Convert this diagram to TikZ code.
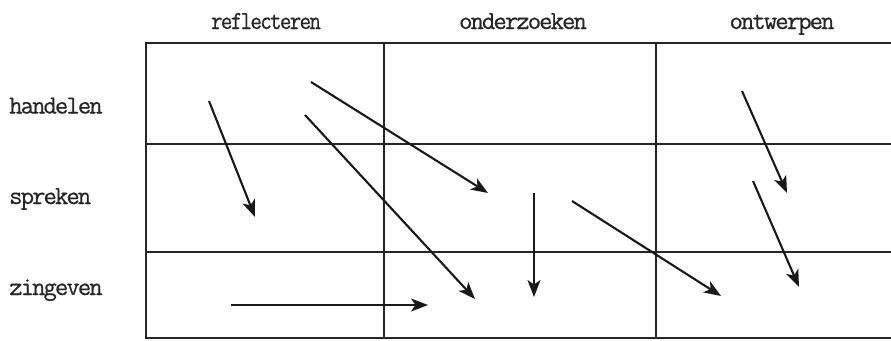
\documentclass[tikz,border=0pt]{standalone}
\usepackage{fontspec}
\newfontfamily\lblfont{Latin Modern Mono}[LetterSpace=-7.5, FakeBold=0.5]
\usetikzlibrary{arrows.meta}
\begin{document}
\begin{tikzpicture}[x=1pt,y=-1pt,
  gridline/.style={line width=2.6pt, draw=black!85},
  flow/.style={line width=2.1pt, draw=black!90, -{Stealth[length=17pt,width=13pt,inset=4.5pt]}},
  lbl/.style={font=\fontsize{26}{26}\selectfont\lblfont, inner sep=0pt, text=black!85}]
\useasboundingbox (0,0) rectangle (891,340);
% grid
\coordinate (tl) at (146,43);
\coordinate (tr) at (893,43);
\coordinate (bl) at (146,338);
\coordinate (br) at (893,338);
\draw[gridline] (tr) -- (tl) -- (bl) -- (br);
\coordinate (v1t) at (384,43); \coordinate (v1b) at (384,338);
\coordinate (v2t) at (656,43); \coordinate (v2b) at (656,338);
\draw[gridline] (v1t) -- (v1b);
\draw[gridline] (v2t) -- (v2b);
\coordinate (h1l) at (146,144); \coordinate (h1r) at (893,144);
\coordinate (h2l) at (146,252); \coordinate (h2r) at (893,252);
\draw[gridline] (h1l) -- (h1r);
\draw[gridline] (h2l) -- (h2r);
% column labels
\node[lbl, anchor=base] (c1) at (266,29) {\scalebox{0.86}[1]{reflecteren}};
\node[lbl, anchor=base] (c2) at (523,29) {onderzoeken};
\node[lbl, anchor=base] (c3) at (782,29) {ontwerpen};
% row labels
\node[lbl, anchor=base west] (r1) at (9,113.5) {handelen};
\node[lbl, anchor=base west] (r2) at (9,204) {spreken};
\node[lbl, anchor=base west] (r3) at (9,295) {zingeven};
% arrows
\coordinate (a1s) at (209,101);   \coordinate (a1e) at (255,217);
\coordinate (a2s) at (311,82);    \coordinate (a2e) at (488,193);
\coordinate (a3s) at (305,115);   \coordinate (a3e) at (475,299);
\coordinate (a4s) at (231,305);   \coordinate (a4e) at (428,305);
\coordinate (a5s) at (534,193);   \coordinate (a5e) at (534,297);
\coordinate (a6s) at (572,201);   \coordinate (a6e) at (721,296);
\coordinate (a7s) at (742,91);    \coordinate (a7e) at (787,193);
\coordinate (a8s) at (753,181);   \coordinate (a8e) at (799,287);
\draw[flow] (a1s) -- (a1e);
\draw[flow] (a2s) -- (a2e);
\draw[flow] (a3s) -- (a3e);
\draw[flow] (a4s) -- (a4e);
\draw[flow] (a5s) -- (a5e);
\draw[flow] (a6s) -- (a6e);
\draw[flow] (a7s) -- (a7e);
\draw[flow] (a8s) -- (a8e);
\end{tikzpicture}
\end{document}
